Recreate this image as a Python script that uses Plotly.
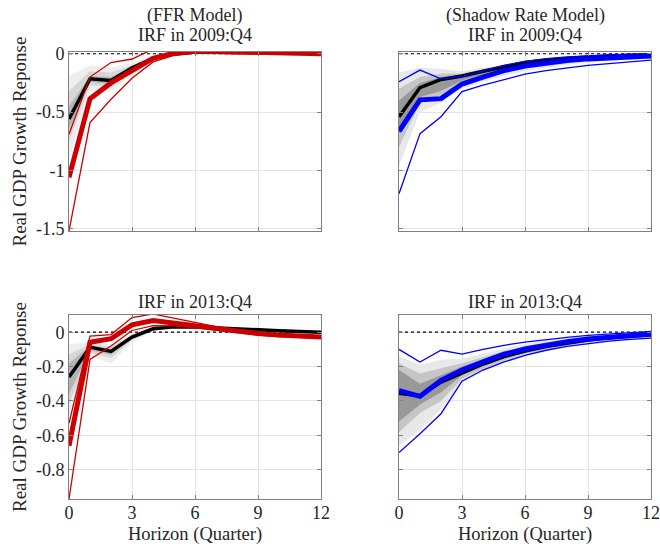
import plotly.graph_objects as go

# ---------------- data ----------------
horizon = list(range(13))
x_tickvals = [0, 3, 6, 9, 12]
x_ticktext = ["0", "3", "6", "9", "12"]
y_top_tickvals = [0, -0.5, -1, -1.5]
y_top_ticktext = ["0", "-0.5", "-1", "-1.5"]
y_bot_tickvals = [0, -0.2, -0.4, -0.6, -0.8]
y_bot_ticktext = ["0", "-0.2", "-0.4", "-0.6", "-0.8"]

# Panel 1: FFR model, IRF in 2009:Q4
ffr09_black = [-0.56, -0.215, -0.23, -0.12, -0.04, 0.0, 0.015, 0.02, 0.015, 0.012, 0.008, 0.005, 0.003]
ffr09_main = [-1.06, -0.385, -0.25, -0.145, -0.04, 0.005, 0.022, 0.02, 0.015, 0.01, 0.005, 0.003, 0.0]
ffr09_hi = [-0.69, -0.20, -0.075, -0.045, 0.04, 0.045, 0.04, 0.03, 0.02, 0.015, 0.01, 0.005, 0.003]
ffr09_lo = [-1.52, -0.59, -0.39, -0.21, -0.07, -0.015, 0.005, 0.005, 0.0, -0.003, -0.005, -0.007, -0.008]
ffr09_fan_outer_hi = [-0.19, -0.10, -0.12, -0.08, -0.01, 0.02, 0.03, 0.03, 0.025, 0.02, 0.015, 0.01, 0.01]
ffr09_fan_outer_lo = [-0.90, -0.32, -0.32, -0.18, -0.07, -0.02, 0.0, 0.0, 0.0, -0.005, -0.01, -0.01, -0.01]
ffr09_fan_mid_hi = [-0.32, -0.15, -0.16, -0.10, -0.025, 0.01, 0.025, 0.025, 0.02, 0.015, 0.01, 0.005, 0.005]
ffr09_fan_mid_lo = [-0.75, -0.27, -0.28, -0.15, -0.055, -0.01, 0.01, 0.01, 0.005, 0.0, -0.005, -0.005, -0.005]
ffr09_fan_in_hi = [-0.45, -0.19, -0.20, -0.115, -0.035, 0.0, 0.02, 0.02, 0.015, 0.01, 0.005, 0.0, 0.0]
ffr09_fan_in_lo = [-0.65, -0.24, -0.26, -0.135, -0.045, -0.005, 0.015, 0.015, 0.01, 0.005, 0.0, 0.0, -0.003]

# Panel 2: Shadow rate model, IRF in 2009:Q4
sr09_black = [-0.54, -0.29, -0.22, -0.19, -0.15, -0.113, -0.075, -0.055, -0.04, -0.028, -0.02, -0.014, -0.01]
sr09_main = [-0.665, -0.395, -0.385, -0.26, -0.20, -0.145, -0.105, -0.078, -0.058, -0.044, -0.034, -0.026, -0.02]
sr09_hi = [-0.24, -0.14, -0.215, -0.195, -0.15, -0.10, -0.065, -0.042, -0.027, -0.016, -0.009, -0.004, 0.0]
sr09_lo = [-1.20, -0.685, -0.54, -0.325, -0.27, -0.225, -0.175, -0.145, -0.12, -0.10, -0.085, -0.07, -0.055]
sr09_fan_outer_hi = [-0.16, -0.12, -0.13, -0.15, -0.12, -0.09, -0.065, -0.045, -0.03, -0.02, -0.012, -0.008, -0.005]
sr09_fan_outer_lo = [-0.96, -0.50, -0.42, -0.30, -0.24, -0.19, -0.15, -0.12, -0.095, -0.075, -0.06, -0.05, -0.04]
sr09_fan_mid_hi = [-0.30, -0.20, -0.17, -0.17, -0.135, -0.10, -0.075, -0.055, -0.04, -0.028, -0.02, -0.014, -0.01]
sr09_fan_mid_lo = [-0.80, -0.42, -0.36, -0.26, -0.205, -0.16, -0.12, -0.095, -0.075, -0.06, -0.047, -0.038, -0.03]
sr09_fan_in_hi = [-0.40, -0.25, -0.20, -0.185, -0.15, -0.11, -0.085, -0.063, -0.047, -0.035, -0.026, -0.02, -0.015]
sr09_fan_in_lo = [-0.68, -0.37, -0.32, -0.23, -0.18, -0.14, -0.105, -0.08, -0.062, -0.048, -0.037, -0.03, -0.024]

# Panel 3: FFR model, IRF in 2013:Q4
ffr13_black = [-0.26, -0.087, -0.112, -0.028, 0.02, 0.032, 0.03, 0.026, 0.02, 0.014, 0.009, 0.004, 0.0]
ffr13_main = [-0.66, -0.058, -0.038, 0.043, 0.068, 0.052, 0.035, 0.018, 0.003, -0.008, -0.017, -0.023, -0.028]
ffr13_hi = [-0.53, -0.023, -0.014, 0.085, 0.106, 0.08, 0.055, 0.032, 0.013, 0.0, -0.01, -0.016, -0.021]
ffr13_lo = [-0.97, -0.158, -0.08, 0.01, 0.038, 0.037, 0.025, 0.01, -0.005, -0.017, -0.026, -0.032, -0.036]
ffr13_fan_outer_hi = [-0.07, -0.06, -0.07, -0.005, 0.03, 0.04, 0.04, 0.035, 0.03, 0.02, 0.015, 0.01, 0.005]
ffr13_fan_outer_lo = [-0.50, -0.14, -0.18, -0.06, 0.005, 0.02, 0.02, 0.015, 0.01, 0.005, 0.0, -0.005, -0.008]
ffr13_fan_mid_hi = [-0.13, -0.07, -0.085, -0.015, 0.025, 0.037, 0.036, 0.03, 0.025, 0.018, 0.012, 0.007, 0.003]
ffr13_fan_mid_lo = [-0.42, -0.12, -0.15, -0.045, 0.012, 0.025, 0.024, 0.02, 0.014, 0.009, 0.004, 0.0, -0.004]
ffr13_fan_in_hi = [-0.18, -0.08, -0.10, -0.022, 0.02, 0.034, 0.033, 0.027, 0.022, 0.016, 0.01, 0.005, 0.001]
ffr13_fan_in_lo = [-0.36, -0.105, -0.13, -0.037, 0.016, 0.028, 0.027, 0.022, 0.017, 0.011, 0.006, 0.002, -0.002]

# Panel 4: Shadow rate model, IRF in 2013:Q4
sr13_black = [-0.355, -0.37, -0.29, -0.235, -0.185, -0.142, -0.11, -0.084, -0.063, -0.046, -0.033, -0.023, -0.015]
sr13_main = [-0.34, -0.373, -0.28, -0.22, -0.173, -0.128, -0.098, -0.074, -0.055, -0.04, -0.028, -0.018, -0.01]
sr13_hi = [-0.10, -0.173, -0.105, -0.128, -0.10, -0.076, -0.058, -0.042, -0.03, -0.018, -0.01, -0.003, 0.005]
sr13_lo = [-0.70, -0.59, -0.474, -0.285, -0.22, -0.173, -0.135, -0.105, -0.082, -0.065, -0.052, -0.042, -0.035]
sr13_fan_outer_hi = [-0.14, -0.19, -0.16, -0.155, -0.125, -0.095, -0.07, -0.05, -0.035, -0.022, -0.013, -0.006, 0.0]
sr13_fan_outer_lo = [-0.66, -0.57, -0.45, -0.29, -0.23, -0.18, -0.14, -0.11, -0.085, -0.068, -0.055, -0.045, -0.037]
sr13_fan_mid_hi = [-0.18, -0.24, -0.21, -0.18, -0.145, -0.11, -0.083, -0.06, -0.045, -0.03, -0.02, -0.012, -0.006]
sr13_fan_mid_lo = [-0.58, -0.47, -0.40, -0.27, -0.215, -0.165, -0.128, -0.10, -0.078, -0.06, -0.047, -0.037, -0.03]
sr13_fan_in_hi = [-0.22, -0.30, -0.25, -0.20, -0.16, -0.12, -0.092, -0.07, -0.052, -0.037, -0.026, -0.017, -0.01]
sr13_fan_in_lo = [-0.52, -0.42, -0.35, -0.25, -0.20, -0.155, -0.118, -0.09, -0.07, -0.053, -0.04, -0.03, -0.022]

titles_line1 = ["(FFR Model)", "(Shadow Rate Model)", "", ""]
titles_line2 = ["IRF in 2009:Q4", "IRF in 2009:Q4", "IRF in 2013:Q4", "IRF in 2013:Q4"]
ylabel = "Real GDP Growth Reponse"
xlabel = "Horizon (Quarter)"

# ---------------- styling ----------------
W, H = 660, 554
FONT = "Liberation Serif, Times New Roman, serif"
RED = "#cc0000"
BLUE = "#0000ff"
FAN_FFR = ["#eeeeee", "#d6d6d6", "#b4b4b4"]
FAN_SR = ["#e8e8e8", "#c6c6c6", "#999999"]
AXIS_GRAY = "#808080"
GRID = "#e4e4e4"
TXT = "#262626"

# pixel boxes (left, right, top, bottom)
boxes = [(69, 321, 52, 231), (399, 651, 52, 231), (69, 321, 315, 499), (399, 651, 315, 499)]

panels = [
    dict(black=ffr09_black, main=ffr09_main, hi=ffr09_hi, lo=ffr09_lo, color=RED, fancol=FAN_FFR,
         fan=[(ffr09_fan_outer_lo, ffr09_fan_outer_hi), (ffr09_fan_mid_lo, ffr09_fan_mid_hi), (ffr09_fan_in_lo, ffr09_fan_in_hi)]),
    dict(black=sr09_black, main=sr09_main, hi=sr09_hi, lo=sr09_lo, color=BLUE, fancol=FAN_SR,
         fan=[(sr09_fan_outer_lo, sr09_fan_outer_hi), (sr09_fan_mid_lo, sr09_fan_mid_hi), (sr09_fan_in_lo, sr09_fan_in_hi)]),
    dict(black=ffr13_black, main=ffr13_main, hi=ffr13_hi, lo=ffr13_lo, color=RED, fancol=FAN_FFR,
         fan=[(ffr13_fan_outer_lo, ffr13_fan_outer_hi), (ffr13_fan_mid_lo, ffr13_fan_mid_hi), (ffr13_fan_in_lo, ffr13_fan_in_hi)]),
    dict(black=sr13_black, main=sr13_main, hi=sr13_hi, lo=sr13_lo, color=BLUE, fancol=FAN_SR,
         fan=[(sr13_fan_outer_lo, sr13_fan_outer_hi), (sr13_fan_mid_lo, sr13_fan_mid_hi), (sr13_fan_in_lo, sr13_fan_in_hi)]),
]

fig = go.Figure()
layout = dict(width=W, height=H, autosize=False,
              margin=dict(l=0, r=0, t=0, b=0, pad=0, autoexpand=False),
              paper_bgcolor="white", plot_bgcolor="white", showlegend=False,
              font=dict(family=FONT, size=18, color=TXT))
annotations = []

for i, p in enumerate(panels):
    n = "" if i == 0 else str(i + 1)
    xa, ya = "x" + n, "y" + n
    for (lo, hi), col in zip(p["fan"], p["fancol"]):
        fig.add_trace(go.Scatter(x=horizon, y=lo, xaxis=xa, yaxis=ya, mode="lines",
                                 line=dict(width=0, color=col), hoverinfo="skip"))
        fig.add_trace(go.Scatter(x=horizon, y=hi, xaxis=xa, yaxis=ya, mode="lines",
                                 line=dict(width=0, color=col), fill="tonexty",
                                 fillcolor=col, hoverinfo="skip"))
    fig.add_trace(go.Scatter(x=[horizon[0], horizon[-1]], y=[0, 0], xaxis=xa, yaxis=ya,
                             mode="lines", line=dict(color="black", width=1.2, dash="dot")))
    fig.add_trace(go.Scatter(x=horizon, y=p["black"], xaxis=xa, yaxis=ya, mode="lines",
                             line=dict(color="black", width=3.5)))
    fig.add_trace(go.Scatter(x=horizon, y=p["hi"], xaxis=xa, yaxis=ya, mode="lines",
                             line=dict(color=p["color"], width=1.3)))
    fig.add_trace(go.Scatter(x=horizon, y=p["lo"], xaxis=xa, yaxis=ya, mode="lines",
                             line=dict(color=p["color"], width=1.3)))
    fig.add_trace(go.Scatter(x=horizon, y=p["main"], xaxis=xa, yaxis=ya, mode="lines",
                             line=dict(color=p["color"], width=5)))

    l, r, t, b = boxes[i]
    top_row = i < 2
    left_col = i % 2 == 0
    layout["xaxis" + n] = dict(
        domain=[l / W, r / W], anchor=ya, range=[0, 12], automargin=False,
        tickvals=x_tickvals, ticktext=x_ticktext, showticklabels=not top_row,
        ticks="inside", ticklen=4, tickcolor=AXIS_GRAY, ticklabelstandoff=-3,
        showgrid=True, gridcolor=GRID, gridwidth=1,
        showline=True, linecolor=AXIS_GRAY, linewidth=1, mirror="ticks",
        zeroline=False, tickfont=dict(size=18, family=FONT, color=TXT))
    layout["yaxis" + n] = dict(
        domain=[1 - b / H, 1 - t / H], anchor=xa, automargin=False,
        range=[-1.52, 0.015] if top_row else [-0.97, 0.1],
        tickvals=y_top_tickvals if top_row else y_bot_tickvals,
        ticktext=y_top_ticktext if top_row else y_bot_ticktext,
        showticklabels=left_col,
        ticks="inside", ticklen=4, tickcolor=AXIS_GRAY,
        showgrid=True, gridcolor=GRID, gridwidth=1,
        showline=True, linecolor=AXIS_GRAY, linewidth=1, mirror="ticks",
        zeroline=False, tickfont=dict(size=18, family=FONT, color=TXT))

    cx = (l + r) / 2 / W
    if titles_line1[i]:
        annotations.append(dict(text=titles_line1[i], x=cx, y=1 - 15 / H, xref="paper", yref="paper",
                                showarrow=False, xanchor="center", yanchor="middle",
                                font=dict(size=18, family=FONT, color=TXT)))
    title_y = 35 if top_row else 302
    annotations.append(dict(text=titles_line2[i], x=cx, y=1 - title_y / H, xref="paper", yref="paper",
                            showarrow=False, xanchor="center", yanchor="middle",
                            font=dict(size=18, family=FONT, color=TXT)))
    if left_col:
        annotations.append(dict(text=ylabel, x=19 / W, y=1 - ((t + b) / 2) / H, xref="paper", yref="paper",
                                showarrow=False, textangle=-90, xanchor="center", yanchor="middle",
                                font=dict(size=19, family=FONT, color=TXT)))
    if not top_row:
        annotations.append(dict(text=xlabel, x=cx, y=1 - 534 / H, xref="paper", yref="paper",
                                showarrow=False, xanchor="center", yanchor="middle",
                                font=dict(size=18.5, family=FONT, color=TXT)))

layout["annotations"] = annotations
fig.update_layout(**layout)
fig.write_html("out.html", config={"displayModeBar": False},
               post_script="document.body.style.margin='0';document.body.style.padding='0';")
